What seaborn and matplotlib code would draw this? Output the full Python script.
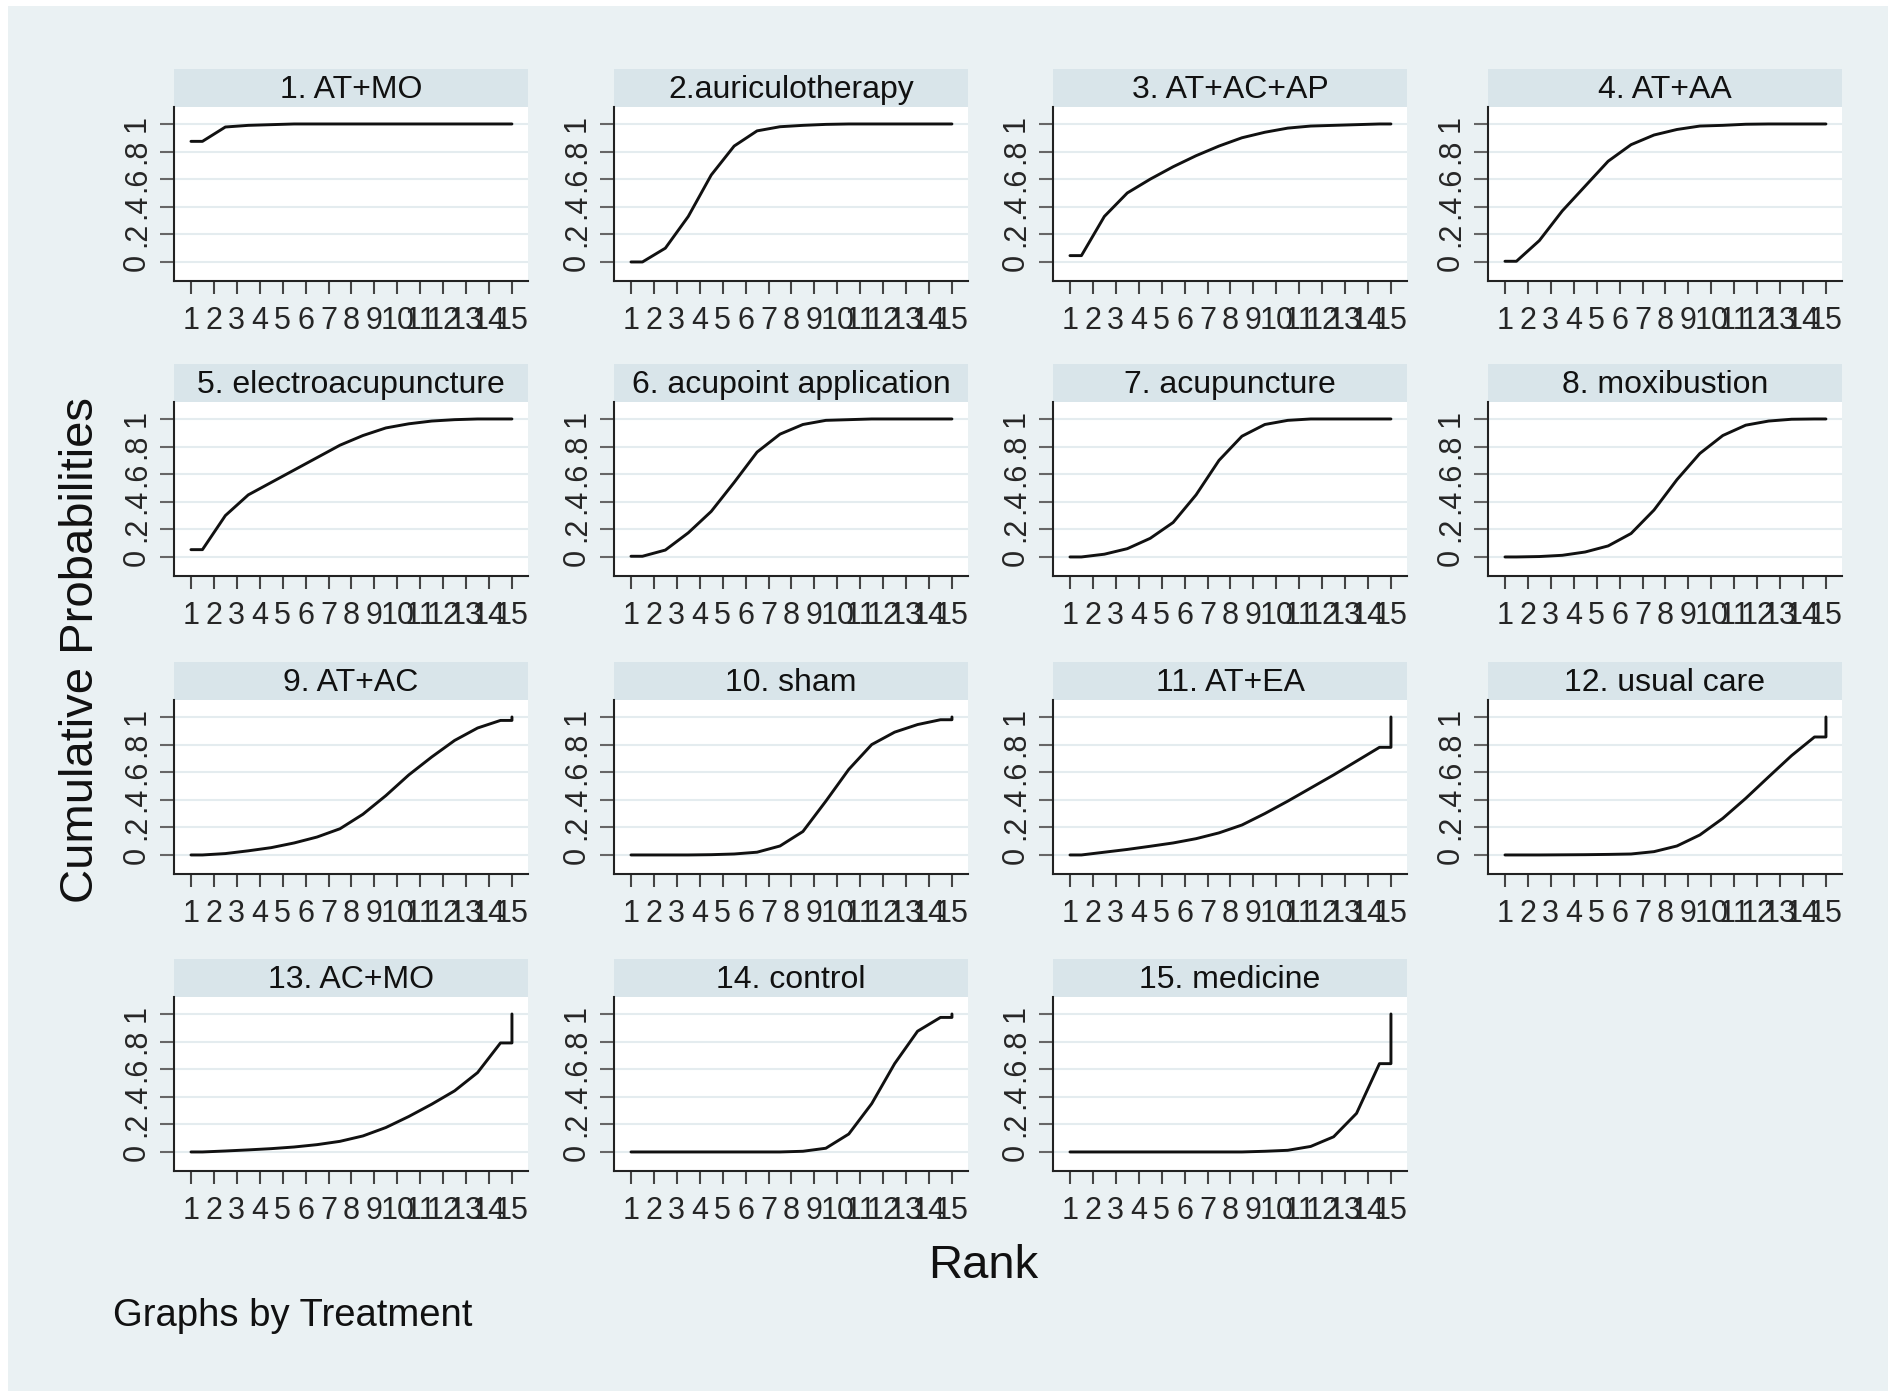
import numpy as np
import pandas as pd
import matplotlib
matplotlib.use("Agg")
import matplotlib.pyplot as plt
import seaborn as sns
from matplotlib.patches import Rectangle

# ---------------- data ----------------
treatments = ["1. AT+MO", "2.auriculotherapy", "3. AT+AC+AP", "4. AT+AA",
              "5. electroacupuncture", "6. acupoint application", "7. acupuncture",
              "8. moxibustion", "9. AT+AC", "10. sham", "11. AT+EA", "12. usual care",
              "13. AC+MO", "14. control", "15. medicine"]
ranks = list(range(1, 16))

cum_at_mo = [0.874, 0.978, 0.99, 0.995, 1, 1, 1, 1, 1, 1, 1, 1, 1, 1, 1]
cum_auriculo = [0.0, 0.10, 0.33, 0.63, 0.84, 0.95, 0.98, 0.99, 0.997, 1, 1, 1, 1, 1, 1]
cum_at_ac_ap = [0.046, 0.33, 0.50, 0.60, 0.69, 0.77, 0.84, 0.90, 0.94, 0.97, 0.985, 0.99, 0.995, 1.0, 1.0]
cum_at_aa = [0.005, 0.155, 0.37, 0.55, 0.73, 0.85, 0.92, 0.96, 0.985, 0.99, 0.998, 1, 1, 1, 1]
cum_electro = [0.053, 0.30, 0.45, 0.54, 0.63, 0.72, 0.81, 0.88, 0.935, 0.965, 0.985, 0.995, 1, 1, 1]
cum_acupoint = [0.005, 0.05, 0.175, 0.33, 0.54, 0.76, 0.89, 0.96, 0.99, 0.995, 1, 1, 1, 1, 1]
cum_acupuncture = [0.0, 0.02, 0.06, 0.135, 0.25, 0.45, 0.70, 0.875, 0.96, 0.99, 1, 1, 1, 1, 1]
cum_moxibustion = [0.0, 0.003, 0.012, 0.036, 0.08, 0.17, 0.34, 0.56, 0.75, 0.88, 0.955, 0.985, 0.998, 1, 1]
cum_at_ac = [0.0, 0.01, 0.03, 0.053, 0.087, 0.13, 0.19, 0.295, 0.43, 0.58, 0.71, 0.83, 0.92, 0.975, 1]
cum_sham = [0.0, 0.0, 0.0, 0.002, 0.007, 0.02, 0.065, 0.17, 0.39, 0.62, 0.80, 0.89, 0.945, 0.98, 1]
cum_at_ea = [0.0, 0.02, 0.04, 0.063, 0.087, 0.118, 0.16, 0.217, 0.30, 0.39, 0.485, 0.58, 0.68, 0.78, 1.0]
cum_usual = [0.0, 0.0, 0.001, 0.002, 0.004, 0.007, 0.024, 0.065, 0.145, 0.265, 0.41, 0.566, 0.72, 0.855, 1]
cum_ac_mo = [0.0, 0.007, 0.015, 0.024, 0.036, 0.053, 0.077, 0.116, 0.177, 0.257, 0.346, 0.443, 0.575, 0.79, 1.0]
cum_control = [0, 0, 0, 0, 0, 0, 0, 0.005, 0.027, 0.13, 0.35, 0.64, 0.875, 0.975, 1]
cum_medicine = [0, 0, 0, 0, 0, 0, 0, 0, 0.005, 0.012, 0.04, 0.11, 0.28, 0.64, 1]

series = [cum_at_mo, cum_auriculo, cum_at_ac_ap, cum_at_aa, cum_electro, cum_acupoint,
          cum_acupuncture, cum_moxibustion, cum_at_ac, cum_sham, cum_at_ea, cum_usual,
          cum_ac_mo, cum_control, cum_medicine]

y_ticks = [0, 0.2, 0.4, 0.6, 0.8, 1]
y_ticklabels = ["0", ".2", ".4", ".6", ".8", "1"]

# build long table: value of rank k drawn between half-ranks (as in the original graph)
rows = []
for t, vals in zip(treatments, series):
    order = 0
    rows.append((t, order, ranks[0], vals[0])); order += 1
    for k in range(len(ranks) - 1):
        rows.append((t, order, ranks[k] + 0.5, vals[k])); order += 1
    rows.append((t, order, ranks[-1], vals[-2])); order += 1
    rows.append((t, order, ranks[-1], vals[-1]))
df = pd.DataFrame(rows, columns=["Treatment", "order", "Rank", "Cum"])

# ---------------- style ----------------
sns.set_theme(style="white")
plt.rcParams["font.family"] = ["Liberation Sans", "DejaVu Sans"]

BG = "#eaf1f3"
STRIP = "#d9e5ea"
GRID = "#e4ecef"

W, H = 1902, 1400
fig = plt.figure(figsize=(W / 100, H / 100), dpi=100, facecolor="white")
fig.patches.append(Rectangle((8 / W, 9 / H), (1888 - 8) / W, (1400 - 6 - 9) / H,
                             transform=fig.transFigure, facecolor=BG,
                             edgecolor="none", zorder=-10))

col_left = [174, 614, 1053, 1488]
row_top = [107, 402, 700, 997]
aw, ah = 354, 174
strip_h = 38

for i, t in enumerate(treatments):
    r, c = divmod(i, 4)
    left = col_left[c]
    top = row_top[r]
    ax = fig.add_axes([left / W, (H - top - ah) / H, aw / W, ah / H])
    ax.set_facecolor("white")
    sub = df[df["Treatment"] == t].sort_values("order")
    for y in y_ticks:
        ax.axhline(y, color=GRID, lw=1.5, zorder=0)
    sns.lineplot(data=sub, x="Rank", y="Cum", ax=ax, sort=False, estimator=None,
                 color="#111111", lw=2.1, zorder=3)
    ax.set_xlim(0.26, 15.70)
    ax.set_ylim(-0.138, 1.123)
    ax.set_xticks(ranks)
    ax.set_xticklabels([str(k) for k in ranks], fontsize=22)
    ax.set_yticks(y_ticks)
    ax.set_yticklabels(y_ticklabels, fontsize=22, rotation=90, va="center")
    ax.tick_params(axis="x", length=9, width=1.5, color="#444444", pad=9, bottom=True)
    ax.tick_params(axis="y", length=10, width=1.5, color="#666666", pad=6, left=True)
    ax.set_xlabel("")
    ax.set_ylabel("")
    for s in ["top", "right"]:
        ax.spines[s].set_visible(False)
    for s in ["left", "bottom"]:
        ax.spines[s].set_color("#222222")
        ax.spines[s].set_linewidth(1.5)
    ax.add_patch(Rectangle((0, 1), 1, strip_h / ah, transform=ax.transAxes,
                           facecolor=STRIP, edgecolor="none", clip_on=False, zorder=1))
    ax.text(0.5, 1 + 9 / ah, t, transform=ax.transAxes, ha="center",
            va="baseline", fontsize=23, color="#111111")

fig.text(81 / W, 1 - 650 / H, "Cumulative Probabilities", rotation=90,
         fontsize=34, ha="center", va="center", color="#111111")
fig.text(983 / W, 1 - 1266 / H, "Rank", fontsize=34, ha="center", va="center",
         color="#111111")
fig.text(113 / W, 1 - 1316 / H, "Graphs by Treatment", fontsize=27.5, ha="left",
         va="center", color="#111111")

fig.savefig("out.png", dpi=100, facecolor=fig.get_facecolor())
